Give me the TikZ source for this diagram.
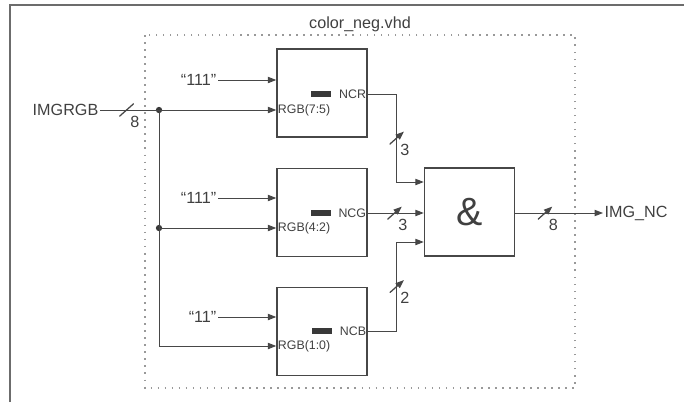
\documentclass[tikz,border=0pt]{standalone}
\usepackage{fontspec}
\setmainfont{Liberation Sans}
\usetikzlibrary{positioning,arrows.meta,calc}
\definecolor{ln}{gray}{0.28}
\definecolor{tx}{gray}{0.25}

\begin{document}
\begin{tikzpicture}[x=0.025cm,y=-0.025cm,
  blk/.style={draw=ln,line width=1pt,minimum width=2.25cm,minimum height=2.2cm,inner sep=0pt},
  wire/.style={ln,line width=0.7pt},
  mor/.style={wire,-{Triangle[length=6pt,width=4.5pt]}},
  txt/.style={font=\fontsize{11.5}{13}\selectfont,text=tx,inner sep=1pt},
  port/.style={font=\fontsize{8.8}{10}\selectfont,text=tx,inner sep=1pt},
  bar/.style={fill=ln!80!black,minimum width=0.5cm,minimum height=0.13cm,inner sep=0pt},
  dot/.style={circle,fill=ln!80!black,minimum size=4.5pt,inner sep=0pt},
  bus/.style={minimum width=0.36cm,minimum height=0.32cm,inner sep=0pt,
    path picture={\draw[ln,line width=0.9pt] (path picture bounding box.south west) -- (path picture bounding box.north east);},
    label={[txt,inner sep=0pt,label distance=-1pt]-60:#1}},
]
\useasboundingbox (0,0) rectangle (684,402);

% === Frame and entity box ===
\draw[ln!80,line width=0.9pt] (10,402) |- (684,5);
\draw[gray!80,line width=1.1pt,dash pattern=on 1.1pt off 3.9pt] (145,35) rectangle (575,388);
\node[txt] (title) at (360,24) {color\_neg.vhd};

% === Blocks ===
\node[blk] (blkR) at (322,93) {};
\node[blk] (blkG) at (322,212.5) {};
\node[blk] (blkB) at (322,331.5) {};
\node[blk,font=\fontsize{28}{30}\selectfont,text=tx] (andg) at (469.5,212) {\&};

% === Ports ===
\node[port,anchor=east] (ncr) at ($(blkR.east)+(0,1)$) {NCR};
\node[port,anchor=east] (ncg) at ($(blkG.east)+(0,0.5)$) {NCG};
\node[port,anchor=east] (ncb) at ($(blkB.east)+(0,-0.5)$) {NCB};
\node[bar,left=0.15cm of ncr] (barR) {};
\node[bar,left=0.15cm of ncg] (barG) {};
\node[bar,left=0.15cm of ncb] (barB) {};

% === Input bus ===
\node[txt,anchor=east] (imgrgb) at (100,110) {IMGRGB};
\node[dot] (jR) at (159,110) {};
\node[dot] (jG) at (159,228) {};
\coordinate (cB) at (159,346);
\draw[wire] (imgrgb.east) -- node[bus=8,pos=0.45] {} (jR.center);
\draw[wire] (jR.center) -- (cB);

\draw[mor] (jR.center) -- (jR -| blkR.west);
\draw[mor] (jG.center) -- (jG -| blkG.west);
\draw[mor] (cB) -- (cB -| blkB.west);
\node[port,anchor=west] (rgbR) at (jR -| blkR.west) {RGB(7:5)};
\node[port,anchor=west] (rgbG) at (jG -| blkG.west) {RGB(4:2)};
\node[port,anchor=west] (rgbB) at (cB -| blkB.west) {RGB(1:0)};

% === Constants ===
\node[txt,anchor=east] (cstR) at (218,80) {``111''};
\node[txt,anchor=east] (cstG) at (218,198) {``111''};
\node[txt,anchor=east] (cstB) at (218,317) {``11''};
\draw[mor] (cstR.east) -- (cstR.east -| blkR.west);
\draw[mor] (cstG.east) -- (cstG.east -| blkG.west);
\draw[mor] (cstB.east) -- (cstB.east -| blkB.west);

% === Concatenation ===
\draw[mor] (ncr.east) -- ++(29,0) |- node[bus=3,pos=0.25] {} ($(andg.west)+(0,-30)$);
\draw[mor] (ncg.east) -- node[bus=3,pos=0.48] {} (ncg.east -| andg.west);
\draw[mor] (ncb.east) -- ++(29,0) |- node[bus=2,pos=0.25] {} ($(andg.west)+(0,30)$);

% === Output ===
\node[txt,anchor=west] (imgnc) at (603,213) {IMG\_NC};
\draw[mor] (andg.east |- imgnc.west) -- node[bus=8,pos=0.34] {} (imgnc.west);

\end{tikzpicture}
\end{document}
